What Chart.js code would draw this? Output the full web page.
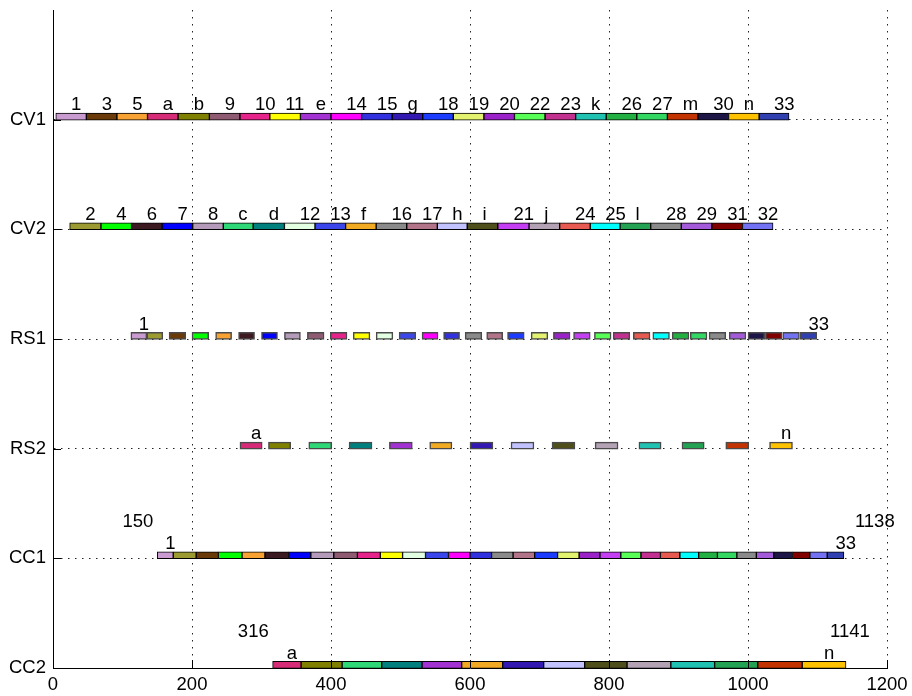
<!DOCTYPE html>
<html>
<head>
<meta charset="utf-8">
<script src="https://cdn.jsdelivr.net/npm/chart.js@4.4.1/dist/chart.umd.min.js"></script>
<style>
  html, body { margin: 0; padding: 0; background: #fff; }
  canvas { display: block; }
</style>
</head>
<body>
<canvas id="c" width="912" height="696"></canvas>
<script>
// ---- Row names (bottom to top) ----
const rowNames = ['CC2', 'CC1', 'RS2', 'RS1', 'CV2', 'CV1'];

// ---- CV1 ----
const cv1Labels = ['1','3','5','a','b','9','10','11','e','14','15','g','18','19','20','22','23','k','26','27','m','30','n','33'];
const cv1Bounds = [4,48,92,136,180,225,269,312,356,400,444,488,532,576,620,664,708,752,796,840,884,928,972,1016,1059];

// ---- CV2 ----
const cv2Labels = ['2','4','6','7','8','c','d','12','13','f','16','17','h','i','21','j','24','25','l','28','29','31','32'];
const cv2Bounds = [24,69,113,157,201,245,288,333,377,421,465,509,553,596,640,685,729,773,816,860,904,948,992,1036];

// ---- RS1 ----
const rs1Labels = ['1','2','3','4','5','6','7','8','9','10','11','12','13','14','15','16','17','18','19','20','21','22','23','24','25','26','27','28','29','30','31','32','33'];
const rs1Start = [112,135,167,200,234,267,300,333,366,399,432,465,498,531,562,593,624,654,688,720,749,779,806,835,863,891,917,944,973,1000,1025,1050,1075];
const rs1End   = [135,158,191,224,257,290,323,356,390,423,456,489,522,554,585,617,647,678,712,744,773,803,830,859,887,915,941,968,997,1024,1049,1074,1099];

// ---- RS2 ----
const rs2Labels = ['a','b','c','d','e','f','g','h','i','j','k','l','m','n'];
const rs2Start = [269,310,368,426,484,542,600,659,718,780,843,905,968,1031];
const rs2End   = [301,342,401,459,517,574,633,692,751,813,875,937,1001,1064];

// ---- CC1 ----
const cc1Labels = rs1Labels;
const cc1Bounds = [150,173,206,238,272,305,339,371,404,438,471,503,536,569,600,631,662,693,726,757,787,817,846,874,902,929,956,984,1012,1037,1064,1089,1114,1138];

// ---- CC2 ----
const cc2Labels = rs2Labels;
const cc2Bounds = [316,357,416,473,531,588,647,706,765,826,889,952,1014,1078,1141];

// ---- X ticks ----
const xTickValues = [0, 200, 400, 600, 800, 1000, 1200];

// ---- Segment colours ----
const segColors = {
  '1':'#c99bd1','2':'#9b9b32','3':'#6a3a08','4':'#00ff00','5':'#f7a232','6':'#3b1a22','7':'#0000ff',
  '8':'#b39bb9','9':'#8f5b73','10':'#e6238b','11':'#ffff00','12':'#e2ffe2','13':'#3b47ea','14':'#ff00ff',
  '15':'#3131e0','16':'#8a8a8a','17':'#b27489','18':'#1c3cff','19':'#e3f36f','20':'#9b22c9','21':'#c43ff2',
  '22':'#57ff57','23':'#c2318f','24':'#e65a52','25':'#00ffff','26':'#22b043','27':'#33d863','28':'#8a8a8a',
  '29':'#a35bd9','30':'#1d1546','31':'#800000','32':'#7272f2','33':'#3040b1',
  'a':'#d62c77','b':'#808000','c':'#2fd877','d':'#007f7f','e':'#a232d2','f':'#f2aa22','g':'#3319b2',
  'h':'#c2c2ff','i':'#4f4f1c','j':'#b2a2b4','k':'#20c2b2','l':'#22a252','m':'#c23300','n':'#ffc200'
};

// ---- Build row descriptors ----
const rows = [
  { name:'CV1', starts: cv1Bounds.slice(0,-1), ends: cv1Bounds.slice(1), labels: cv1Labels, showAll:true,  edge:'#000', edgeW:1 },
  { name:'CV2', starts: cv2Bounds.slice(0,-1), ends: cv2Bounds.slice(1), labels: cv2Labels, showAll:true,  edge:'#000', edgeW:1 },
  { name:'RS1', starts: rs1Start, ends: rs1End, labels: rs1Labels, showAll:false, edge:'#4a4a4a', edgeW:1.5 },
  { name:'RS2', starts: rs2Start, ends: rs2End, labels: rs2Labels, showAll:false, edge:'#4a4a4a', edgeW:1.5 },
  { name:'CC1', starts: cc1Bounds.slice(0,-1), ends: cc1Bounds.slice(1), labels: cc1Labels, showAll:false, edge:'#000', edgeW:1, range:true, endShift: 11 },
  { name:'CC2', starts: cc2Bounds.slice(0,-1), ends: cc2Bounds.slice(1), labels: cc2Labels, showAll:false, edge:'#000', edgeW:1, range:true, endShift: -16 }
];
rows.forEach(r => { r.row = rowNames.indexOf(r.name); });

const barLift = 0.028; // bars sit just above their row line
const datasets = rows.map(r => ({
  label: r.name,
  data: r.starts.map((s, i) => ({ x: [s, r.ends[i]], y: r.row + barLift })),
  backgroundColor: r.labels.map(l => segColors[l]),
  borderColor: r.edge,
  borderWidth: r.edgeW,
  borderSkipped: false,
  barThickness: 7,
  grouped: false
}));

const FONT = '"Liberation Sans", Arial, Helvetica, sans-serif';

const labelPlugin = {
  id: 'segLabels',
  afterDatasetsDraw(chart) {
    const { ctx, scales: { x, y } } = chart;
    ctx.save();
    ctx.font = '18.5px ' + FONT;
    ctx.fillStyle = '#000';
    ctx.textAlign = 'left';
    ctx.textBaseline = 'alphabetic';
    rows.forEach(r => {
      const yp = y.getPixelForValue(r.row) - 9.5;
      const n = r.labels.length;
      r.labels.forEach((lab, i) => {
        if (r.showAll || i === 0 || i === n - 1) {
          const xc = x.getPixelForValue((r.starts[i] + r.ends[i]) / 2);
          ctx.fillText(lab, xc, yp);
        }
      });
      if (r.range) {
        const yr = y.getPixelForValue(r.row) - 31;
        const s = r.starts[0], e = r.ends[n - 1];
        ctx.fillText(String(s), x.getPixelForValue(s - 50), yr);
        ctx.fillText(String(e), x.getPixelForValue(e) + r.endShift, yr);
      }
    });
    ctx.restore();
  }
};

const inwardTicks = {
  id: 'inwardTicks',
  afterDraw(chart) {
    const { ctx, chartArea, scales: { x, y } } = chart;
    ctx.save();
    ctx.strokeStyle = '#000';
    ctx.lineWidth = 1;
    ctx.beginPath();
    xTickValues.forEach(v => {
      const px = Math.round(x.getPixelForValue(v)) + 0.5;
      ctx.moveTo(px, chartArea.bottom);
      ctx.lineTo(px, chartArea.bottom - 8);
    });
    rowNames.forEach((_, i) => {
      const py = Math.round(y.getPixelForValue(i)) + 0.5;
      ctx.moveTo(chartArea.left, py);
      ctx.lineTo(chartArea.left + 8, py);
    });
    ctx.stroke();
    ctx.restore();
  }
};

new Chart(document.getElementById('c').getContext('2d'), {
  type: 'bar',
  data: { datasets },
  options: {
    indexAxis: 'y',
    responsive: false,
    animation: false,
    layout: { padding: { top: 10, right: 25, left: 0, bottom: 0 } },
    plugins: { legend: { display: false }, tooltip: { enabled: false } },
    scales: {
      x: {
        type: 'linear', min: 0, max: 1200,
        afterBuildTicks(s) { s.ticks = xTickValues.map(v => ({ value: v })); },
        ticks: {
          color: '#000', font: { family: FONT, size: 18.5 }, padding: 6, maxRotation: 0, autoSkip: false,
          callback: v => String(v)
        },
        grid: { color: '#222', lineWidth: 1, drawTicks: false },
        border: { display: true, color: '#000', width: 1, dash: [1.5, 5.5] },
        afterFit(s) { s.height = 28; s.paddingLeft = 0; s.paddingRight = 0; }
      },
      y: {
        type: 'linear', min: 0, max: 6, offset: false,
        afterBuildTicks(s) { s.ticks = [0,1,2,3,4,5,6].map(v => ({ value: v })); },
        ticks: {
          color: '#000', font: { family: FONT, size: 18.5 }, padding: 7, autoSkip: false,
          callback: v => (rowNames[v] !== undefined ? rowNames[v] : '')
        },
        grid: {
          offset: false, drawTicks: false, lineWidth: 1,
          color: c => (c.tick && c.tick.value === 6 ? 'rgba(0,0,0,0)' : '#222')
        },
        border: { display: true, color: '#000', width: 1, dash: [1.5, 5.5] },
        afterFit(s) { s.width = 53; s.paddingTop = 0; s.paddingBottom = 0; }
      }
    }
  },
  plugins: [labelPlugin, inwardTicks]
});
</script>
</body>
</html>
